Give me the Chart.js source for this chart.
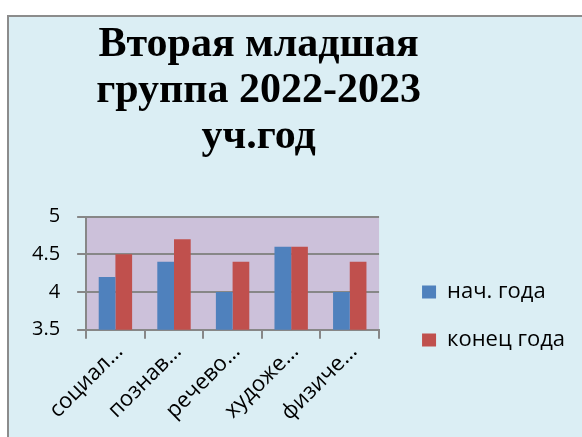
<!DOCTYPE html>
<html>
<head>
<meta charset="utf-8">
<script src="https://cdn.jsdelivr.net/npm/chart.js@4/dist/chart.umd.min.js"></script>
<style>
  html, body { margin: 0; padding: 0; background: #fff; }
  #wrap { width: 582px; height: 437px; }
</style>
</head>
<body>
<div id="wrap"><canvas id="chart" width="582" height="437"></canvas></div>
<script>
// data
const titleLines = ['Вторая младшая', 'группа 2022-2023', 'уч.год']
const categories = ['социал…', 'познав…', 'речево…', 'художе…', 'физиче…']
const startYear = [4.2, 4.4, 4.0, 4.6, 4.0]
const endYear = [4.5, 4.7, 4.4, 4.6, 4.4]
const seriesNames = ['нач. года', 'конец года']
const yTicks = [3.5, 4, 4.5, 5]

const axisGrey = '#878787'
const titleOffsetX = 26   // title sits a bit right of the plot centre

// light blue frame + purple plot area
const framePlugin = {
  id: 'frame',
  beforeDraw(chart) {
    const { ctx, width, height, chartArea } = chart
    ctx.save()
    ctx.fillStyle = '#ffffff'
    ctx.fillRect(0, 0, width, height)
    ctx.fillStyle = '#dbeef4'
    ctx.fillRect(8, 15, width, height)
    ctx.strokeStyle = '#8c8c8c'
    ctx.lineWidth = 2
    ctx.beginPath()
    ctx.moveTo(8, height)
    ctx.lineTo(8, 16)
    ctx.lineTo(width, 16)
    ctx.stroke()
    ctx.fillStyle = '#ccc1da'
    ctx.fillRect(chartArea.left, chartArea.top, chartArea.width, chartArea.height)
    ctx.restore()
  }
}

// move the title box and give it room so the lines are not squeezed
const titlePlacePlugin = {
  id: 'titlePlace',
  afterLayout(chart) {
    const t = chart.titleBlock
    if (!t) return
    const mid = (chart.chartArea.left + chart.chartArea.right) / 2 + titleOffsetX
    t.left = mid - 180
    t.right = mid + 180
  }
}

const ctx = document.getElementById('chart').getContext('2d')

new Chart(ctx, {
  type: 'bar',
  data: {
    labels: categories,
    datasets: [
      {
        label: seriesNames[0],
        data: startYear,
        backgroundColor: '#4f81bd',
        categoryPercentage: 0.57,
        barPercentage: 1.0
      },
      {
        label: seriesNames[1],
        data: endYear,
        backgroundColor: '#c0504d',
        categoryPercentage: 0.57,
        barPercentage: 1.0
      }
    ]
  },
  options: {
    responsive: false,
    animation: false,
    layout: {
      padding: { top: 15, left: 15, right: 7, bottom: 11 }
    },
    plugins: {
      tooltip: { enabled: false },
      title: {
        display: true,
        fullSize: false,
        text: titleLines,
        color: '#000',
        font: { family: 'Liberation Serif', weight: 'bold', size: 42, lineHeight: 1.1 },
        padding: { top: 7, bottom: 56 }
      },
      legend: {
        display: true,
        position: 'right',
        align: 'center',
        maxWidth: 220,
        title: {
          display: true,
          text: '',
          font: { size: 10 },
          padding: { top: 179, bottom: 0 }
        },
        labels: {
          color: '#000',
          font: { family: 'Open Sans', size: 22 },
          boxWidth: 14,
          boxHeight: 13,
          padding: 26
        }
      }
    },
    scales: {
      x: {
        grid: {
          offset: true,
          drawOnChartArea: false,
          color: axisGrey,
          lineWidth: 2,
          tickLength: 9
        },
        border: { color: axisGrey, width: 2 },
        ticks: {
          color: '#000',
          font: { family: 'Open Sans', size: 22 },
          minRotation: 45,
          maxRotation: 45,
          autoSkip: false,
          padding: 0,
          labelOffset: 4
        },
        afterFit(scale) {
          // rotated labels fit under the y labels, no extra room needed
          scale.paddingLeft = 0
          scale.paddingRight = 0
        }
      },
      y: {
        min: 3.5,
        max: 5,
        afterBuildTicks(scale) {
          scale.ticks = yTicks.map(v => ({ value: v }))
        },
        grid: { color: axisGrey, lineWidth: 2, tickLength: 9 },
        border: { color: axisGrey, width: 2 },
        ticks: {
          color: '#000',
          font: { family: 'Open Sans', size: 20 },
          padding: 17,
          callback: (v) => String(v)
        }
      },
      // empty spacer between plot and legend
      gap: {
        type: 'linear',
        position: 'right',
        grid: { display: false },
        border: { display: false },
        ticks: { display: false },
        afterFit(scale) {
          scale.width = 17
        }
      }
    }
  },
  plugins: [framePlugin, titlePlacePlugin]
})
</script>
</body>
</html>
